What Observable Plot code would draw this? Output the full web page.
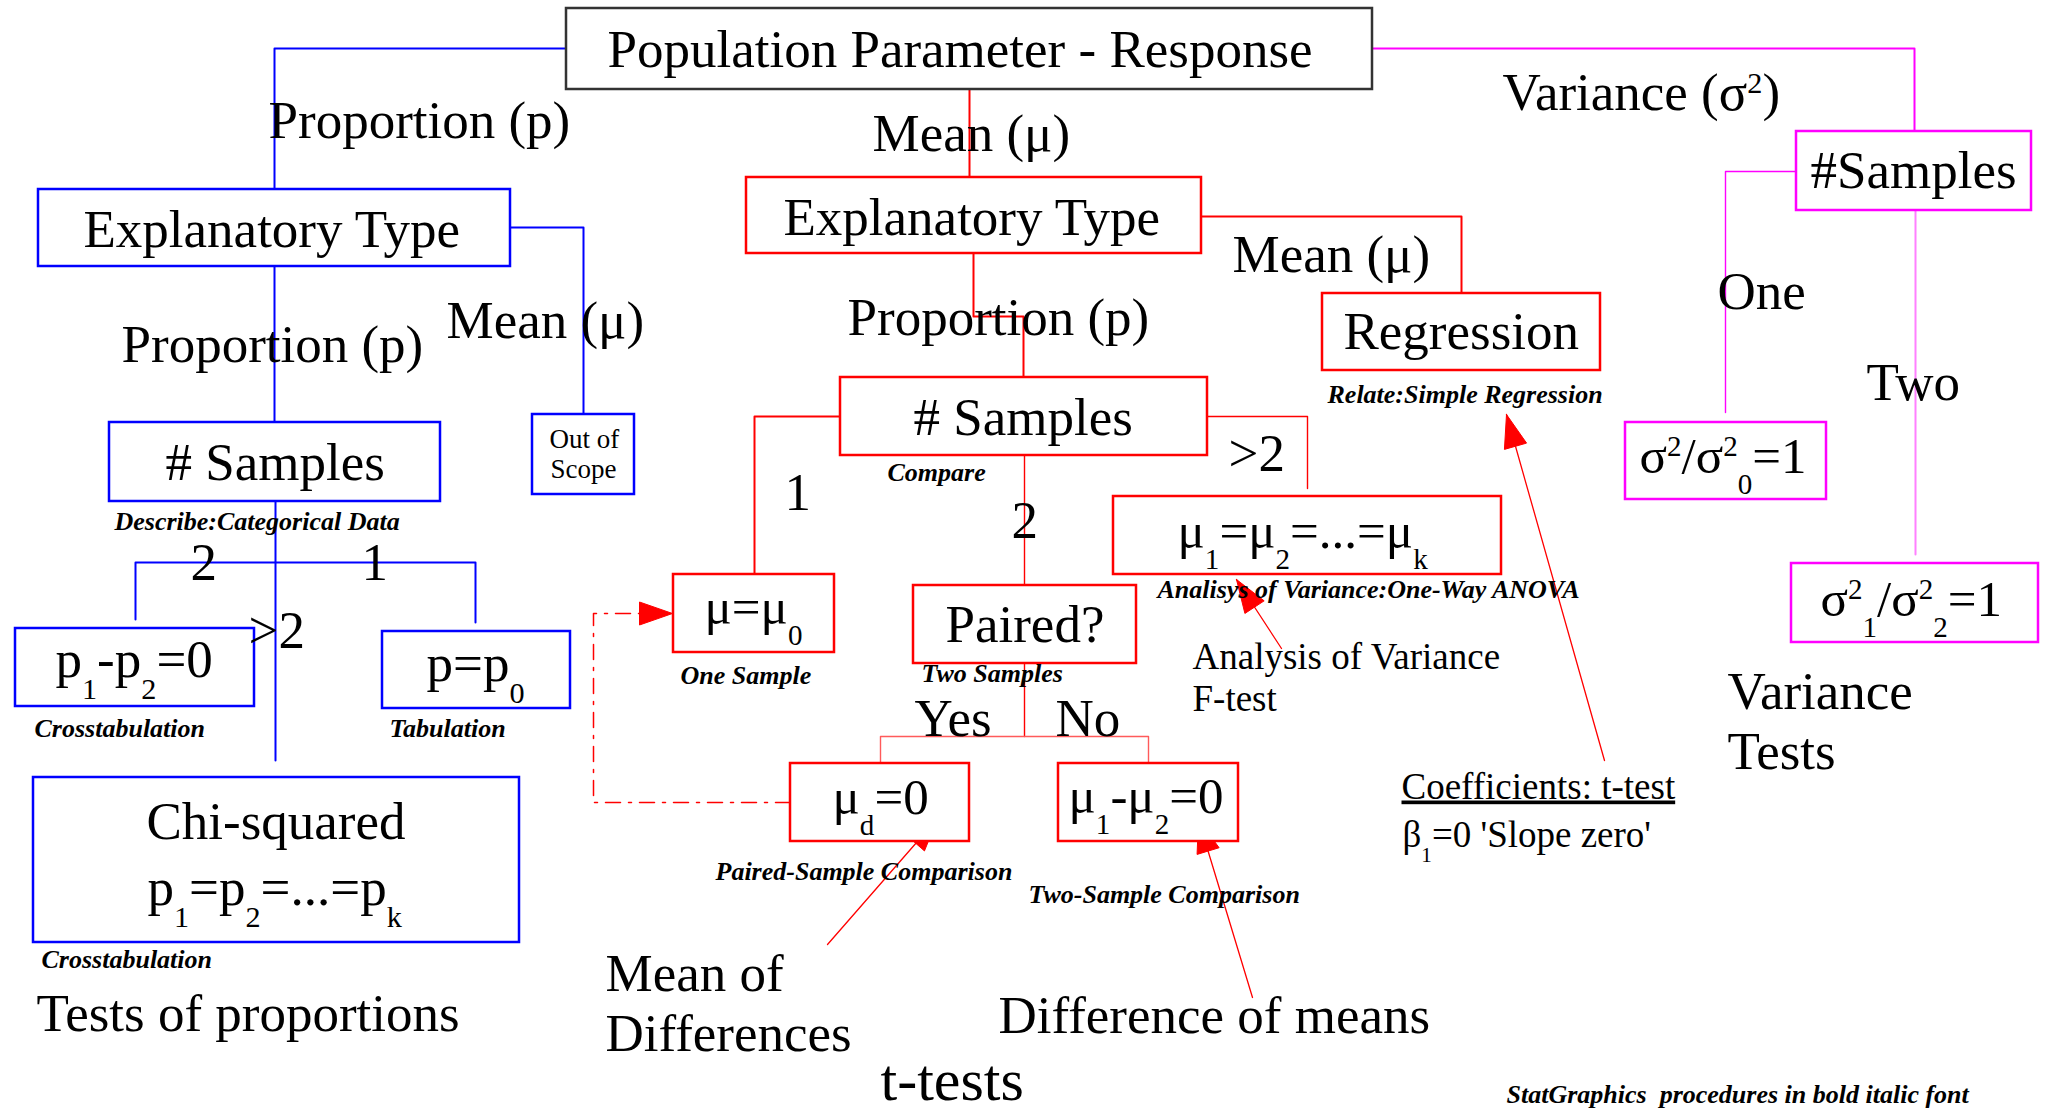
<!DOCTYPE html>
<html>
<head>
<meta charset="utf-8">
<script src="https://cdn.jsdelivr.net/npm/d3@7"></script>
<script src="https://cdn.jsdelivr.net/npm/@observablehq/plot@0.6"></script>
<style>
  html, body { margin: 0; padding: 0; background: #ffffff; }
  #chart svg { display: block; }
</style>
</head>
<body>
<div id="chart"></div>
<script>
// ---------- diagram content ----------
// Branches of the decision tree (used as the colour categories)
const branches = ["root", "proportion", "mean", "mean-light", "variance", "variance-light"];

// Boxes of the flow chart: corners in the diagram's own coordinate space
const boxes = [
  {branch: "root",       x1: 566,  y1: 8,   x2: 1372, y2: 89},
  {branch: "proportion", x1: 38,   y1: 189, x2: 510,  y2: 266},
  {branch: "proportion", x1: 532,  y1: 414, x2: 634,  y2: 494},
  {branch: "proportion", x1: 109,  y1: 422, x2: 440,  y2: 501},
  {branch: "proportion", x1: 15,   y1: 628, x2: 254,  y2: 706},
  {branch: "proportion", x1: 382,  y1: 631, x2: 570,  y2: 708},
  {branch: "proportion", x1: 33,   y1: 777, x2: 519,  y2: 942},
  {branch: "mean",       x1: 746,  y1: 177, x2: 1201, y2: 253},
  {branch: "mean",       x1: 1322, y1: 293, x2: 1600, y2: 370},
  {branch: "mean",       x1: 840,  y1: 377, x2: 1207, y2: 455},
  {branch: "mean",       x1: 1113, y1: 496, x2: 1501, y2: 574},
  {branch: "mean",       x1: 673,  y1: 574, x2: 834,  y2: 652},
  {branch: "mean",       x1: 913,  y1: 585, x2: 1136, y2: 663},
  {branch: "mean",       x1: 790,  y1: 763, x2: 969,  y2: 841},
  {branch: "mean",       x1: 1058, y1: 763, x2: 1238, y2: 841},
  {branch: "variance",   x1: 1796, y1: 131, x2: 2031, y2: 210},
  {branch: "variance",   x1: 1625, y1: 422, x2: 1826, y2: 499},
  {branch: "variance",   x1: 1791, y1: 563, x2: 2038, y2: 642}
];

// Elbow connectors between boxes
const connectors = [
  {branch: "proportion", kind: "main", pts: [[566, 48], [274, 48], [274, 189]]},
  {branch: "proportion", kind: "main", pts: [[510, 227], [583, 227], [583, 414]]},
  {branch: "proportion", kind: "main", pts: [[274, 266], [274, 422]]},
  {branch: "proportion", kind: "main", pts: [[275, 501], [275, 760]]},
  {branch: "proportion", kind: "main", pts: [[135, 619], [135, 562], [475, 562], [475, 622]]},
  {branch: "mean", kind: "main", pts: [[969, 89], [969, 177]]},
  {branch: "mean", kind: "main", pts: [[1201, 216], [1461, 216], [1461, 293]]},
  {branch: "mean", kind: "main", pts: [[973, 253], [973, 316], [1023, 316], [1023, 377]]},
  {branch: "mean", kind: "main", pts: [[840, 416], [754, 416], [754, 574]]},
  {branch: "mean", kind: "thin", pts: [[1207, 416], [1307, 416], [1307, 488]]},
  {branch: "mean", kind: "thin", pts: [[1024, 455], [1024, 585]]},
  {branch: "mean", kind: "thin", pts: [[1024, 663], [1024, 736]]},
  {branch: "mean-light", kind: "thin", pts: [[880, 763], [880, 736], [1148, 736], [1148, 763]]},
  {branch: "variance", kind: "main", pts: [[1372, 48], [1914, 48], [1914, 131]]},
  {branch: "variance", kind: "thin", pts: [[1796, 171], [1725, 171], [1725, 412]]},
  {branch: "variance-light", kind: "main", pts: [[1915, 210], [1915, 554]]}
];

// Dash-dot link from the paired test back to the one-sample test (ends in an arrow)
const dashedLink = [[790, 802], [593, 802], [593, 613], [672, 613]];

// Annotation arrows: from the note to the box it explains
const arrows = [
  {from: [1281, 648], to: [1236, 579]},
  {from: [827, 944],  to: [937, 818]},
  {from: [1252, 997], to: [1198, 819]},
  {from: [1604, 760], to: [1506, 414]}
];

// Texts: "_x" = subscript, "^x" = superscript
const labels = [
  {text: "Population Parameter - Response", x: 607, y: 66, role: "head"},
  {text: "Proportion (p)", x: 268, y: 137, role: "head"},
  {text: "Explanatory Type", x: 83, y: 246, role: "head"},
  {text: "Mean (μ)", x: 446, y: 337, role: "head"},
  {text: "Proportion (p)", x: 121, y: 361, role: "head"},
  {text: "# Samples", x: 165, y: 479, role: "head"},
  {text: "Out of", x: 549, y: 447, role: "tiny"},
  {text: "Scope", x: 550, y: 477, role: "tiny"},
  {text: "Describe:Categorical Data", x: 114, y: 529, role: "proc"},
  {text: "2", x: 190, y: 579, role: "head"},
  {text: "1", x: 361, y: 579, role: "head"},
  {text: ">2", x: 248, y: 647, role: "head"},
  {text: "p_1-p_2=0", x: 55, y: 676, role: "head"},
  {text: "p=p_0", x: 426, y: 680, role: "head"},
  {text: "Crosstabulation", x: 34, y: 736, role: "proc"},
  {text: "Tabulation", x: 389, y: 736, role: "proc"},
  {text: "Chi-squared", x: 146, y: 838, role: "head"},
  {text: "p_1=p_2=...=p_k", x: 147, y: 904, role: "head"},
  {text: "Crosstabulation", x: 41, y: 967, role: "proc"},
  {text: "Tests of proportions", x: 36, y: 1030, role: "head"},
  {text: "Mean (μ)", x: 872, y: 150, role: "head"},
  {text: "Explanatory Type", x: 783, y: 234, role: "head"},
  {text: "Mean (μ)", x: 1232, y: 271, role: "head"},
  {text: "Proportion (p)", x: 847, y: 334, role: "head"},
  {text: "Regression", x: 1343, y: 348, role: "head"},
  {text: "Relate:Simple Regression", x: 1327, y: 402, role: "proc"},
  {text: "# Samples", x: 913, y: 434, role: "head"},
  {text: ">2", x: 1228, y: 470, role: "head"},
  {text: "Compare", x: 887, y: 480, role: "proc"},
  {text: "1", x: 784, y: 509, role: "head"},
  {text: "2", x: 1011, y: 537, role: "head"},
  {text: "μ_1=μ_2=...=μ_k", x: 1177, y: 547, role: "formula"},
  {text: "Analisys of Variance:One-Way ANOVA", x: 1157, y: 597, role: "proc"},
  {text: "μ=μ_0", x: 704, y: 623, role: "formula"},
  {text: "Paired?", x: 945, y: 641, role: "head"},
  {text: "Analysis of Variance", x: 1192, y: 668, role: "note"},
  {text: "One Sample", x: 680, y: 683, role: "proc"},
  {text: "Two Samples", x: 921, y: 681, role: "proc"},
  {text: "F-test", x: 1192, y: 710, role: "note"},
  {text: "Yes", x: 914, y: 735, role: "head"},
  {text: "No", x: 1055, y: 735, role: "head"},
  {text: "μ_d=0", x: 832, y: 813, role: "formula"},
  {text: "μ_1-μ_2=0", x: 1068, y: 812, role: "formula"},
  {text: "Paired-Sample Comparison", x: 715, y: 879, role: "proc"},
  {text: "Two-Sample Comparison", x: 1028, y: 902, role: "proc"},
  {text: "Mean of", x: 605, y: 990, role: "head"},
  {text: "Differences", x: 605, y: 1050, role: "head"},
  {text: "Difference of means", x: 998, y: 1032, role: "head"},
  {text: "t-tests", x: 880, y: 1099, role: "big"},
  {text: "Coefficients: t-test", x: 1401, y: 798, role: "note"},
  {text: "β_1=0 'Slope zero'", x: 1402, y: 846, role: "note"},
  {text: "Variance (σ^2)", x: 1502, y: 109, role: "head"},
  {text: "#Samples", x: 1810, y: 187, role: "head"},
  {text: "One", x: 1717, y: 308, role: "head"},
  {text: "Two", x: 1866, y: 399, role: "head"},
  {text: "σ^2/σ^2_0=1", x: 1639, y: 472, role: "formula"},
  {text: "σ^2_1/σ^2_2=1", x: 1820, y: 615, role: "formula"},
  {text: "Variance", x: 1727, y: 708, role: "head"},
  {text: "Tests", x: 1727, y: 768, role: "head"},
  {text: "StatGraphics  procedures in bold italic font", x: 1506, y: 1102, role: "proc"}
];
const underlined = ["Coefficients: t-test"];

// ---------- styling ----------
const branchColors = ["#333333", "#0000ff", "#ff0000", "#ff5a5a", "#ff00ff", "#ff80ff"];
const roleSize = {head: 53, formula: 51, note: 37, tiny: 27, proc: 26, big: 60};
const SERIF = "'Liberation Serif', 'Times New Roman', Times, serif";

// ---------- derived geometry ----------
const flatten = (list) => list.flatMap((c, i) => c.pts.map(([x, y]) => ({id: i, x, y, branch: c.branch})));
const mainPts = flatten(connectors.filter(c => c.kind === "main"));
const thinPts = flatten(connectors.filter(c => c.kind === "thin"));
const dashedPts = dashedLink.map(([x, y]) => ({x, y}));
const shaftPts = arrows.flatMap((a, i) => [{id: i, x: a.from[0], y: a.from[1]}, {id: i, x: a.to[0], y: a.to[1]}]);

const headSpecs = arrows.map(a => ({from: a.from, to: a.to}))
  .concat([{from: dashedLink[dashedLink.length - 2], to: dashedLink[dashedLink.length - 1]}]);
const HEAD_LEN = 33, HEAD_HALF = 11.5;
const headPts = headSpecs.flatMap((a, i) => {
  const dx = a.to[0] - a.from[0], dy = a.to[1] - a.from[1];
  const len = Math.hypot(dx, dy), ux = dx / len, uy = dy / len;
  const bx = a.to[0] - ux * HEAD_LEN, by = a.to[1] - uy * HEAD_LEN;
  return [
    {id: i, x: a.to[0], y: a.to[1]},
    {id: i, x: bx - uy * HEAD_HALF, y: by + ux * HEAD_HALF},
    {id: i, x: bx + uy * HEAD_HALF, y: by - ux * HEAD_HALF},
    {id: i, x: a.to[0], y: a.to[1]}
  ];
});

const regular = labels.filter(d => d.role !== "proc");
const procs = labels.filter(d => d.role === "proc");

const chart = Plot.plot({
  width: 2050,
  height: 1118,
  margin: 0,
  x: {domain: [0, 2050], range: [0, 2050], axis: null},
  y: {domain: [0, 1118], range: [0, 1118], axis: null},
  color: {domain: branches, range: branchColors},
  style: {background: "#ffffff", fontFamily: SERIF},
  marks: [
    Plot.line(mainPts, {x: "x", y: "y", z: "id", stroke: "branch", strokeWidth: 2}),
    Plot.line(thinPts, {x: "x", y: "y", z: "id", stroke: "branch", strokeWidth: 1.4}),
    Plot.line(dashedPts, {x: "x", y: "y", stroke: "#ff0000", strokeWidth: 1.5, strokeDasharray: "15,8,3,8"}),
    Plot.line(shaftPts, {x: "x", y: "y", z: "id", stroke: "#ff0000", strokeWidth: 1.3}),
    Plot.line(headPts, {x: "x", y: "y", z: "id", stroke: "#ff0000", fill: "#ff0000", strokeWidth: 1}),
    Plot.rect(boxes, {x1: "x1", x2: "x2", y1: "y1", y2: "y2", stroke: "branch", fill: "#ffffff", strokeWidth: 2.5}),
    Plot.text(regular, {
      x: "x", y: "y", text: "text", fontSize: d => roleSize[d.role],
      textAnchor: "start", lineAnchor: "bottom", fontFamily: SERIF, fill: "#000000"
    }),
    Plot.text(procs, {
      x: "x", y: "y", text: "text", fontSize: d => roleSize[d.role],
      textAnchor: "start", lineAnchor: "bottom", fontFamily: SERIF,
      fontWeight: "bold", fontStyle: "italic", fill: "#000000"
    })
  ]
});

document.getElementById("chart").append(chart);

// ---------- rich text: subscripts / superscripts ----------
const NS = "http://www.w3.org/2000/svg";
chart.querySelectorAll("text").forEach(el => {
  el.style.whiteSpace = "pre";
  const s = el.textContent;
  if (underlined.includes(s)) el.style.textDecoration = "underline";
  if (!/[_^]/.test(s)) return;
  const fs = parseFloat(getComputedStyle(el).fontSize) || 53;
  const small = fs * 0.57, subOff = fs * 0.42, supOff = fs * 0.32;
  el.textContent = "";
  let shift = 0, buf = "";
  const add = (str, dy, size) => {
    const t = document.createElementNS(NS, "tspan");
    if (dy) t.setAttribute("dy", dy.toFixed(2));
    if (size) t.setAttribute("font-size", size.toFixed(2));
    t.textContent = str;
    el.appendChild(t);
  };
  const flush = () => {
    if (!buf) return;
    add(buf, -shift, null);
    shift = 0; buf = "";
  };
  for (let i = 0; i < s.length; i++) {
    const c = s[i];
    if ((c === "_" || c === "^") && i + 1 < s.length) {
      flush();
      const target = c === "_" ? subOff : -supOff;
      add(s[i + 1], target - shift, small);
      shift = target;
      i++;
    } else buf += c;
  }
  flush();
});
</script>
</body>
</html>
